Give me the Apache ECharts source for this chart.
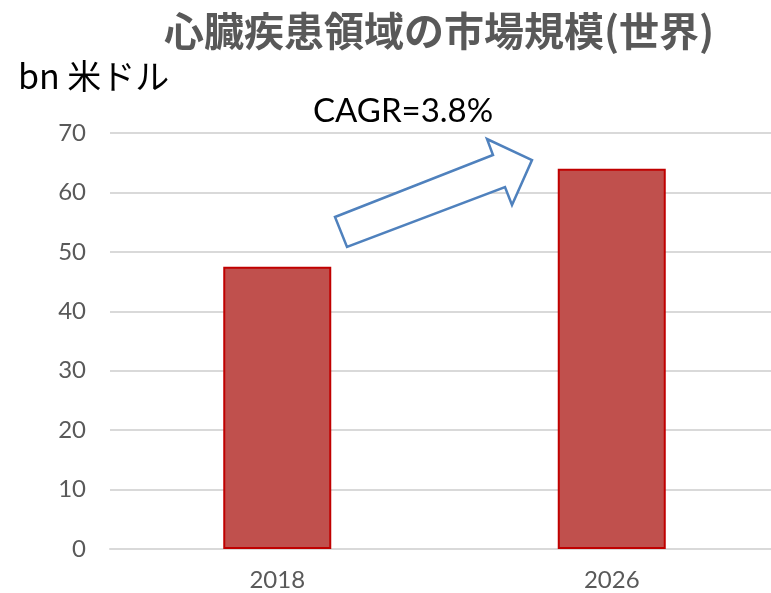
<!DOCTYPE html>
<html>
<head>
<meta charset="utf-8">
<script src="https://cdn.jsdelivr.net/npm/echarts@6/dist/echarts.min.js"></script>
<style>
  html, body { margin: 0; padding: 0; background: #fff; }
  #main { width: 771px; height: 593px; }
</style>
</head>
<body>
<div id="main"></div>
<script>
// 年と市場規模 (bn 米ドル)
var years = ['2018', '2026'];
var marketSize = [47.5, 64.0];
var yTicks = [0, 10, 20, 30, 40, 50, 60, 70];

var titleText = '心臓疾患領域の市場規模(世界)';
var unitText = 'bn 米ドル';
var cagrText = 'CAGR=3.8%';

var option = {
  backgroundColor: '#fff',
  title: {
    text: titleText,
    left: 159,
    top: 6,
    textStyle: {
      fontFamily: '"Noto Sans CJK JP"',
      fontWeight: 'bold',
      fontSize: 40,
      color: '#595959'
    }
  },
  grid: {
    left: 110,
    top: 133,
    width: 669,
    bottom: 44,
    outerBoundsMode: 'none'
  },
  xAxis: {
    type: 'category',
    data: years,
    axisLine: { lineStyle: { color: '#D9D9D9', width: 2 } },
    axisTick: { show: false },
    axisLabel: {
      color: '#595959',
      fontFamily: 'Lato',
      fontSize: 24,
      margin: 19
    }
  },
  yAxis: {
    type: 'value',
    min: yTicks[0],
    max: yTicks[yTicks.length - 1],
    interval: 10,
    axisLine: { show: false },
    axisTick: { show: false },
    splitLine: { lineStyle: { color: '#D9D9D9', width: 2 } },
    axisLabel: {
      color: '#595959',
      fontFamily: 'Lato',
      fontSize: 24,
      margin: 24
    }
  },
  series: [
    {
      type: 'bar',
      data: marketSize,
      barWidth: 108,
      itemStyle: {
        color: '#C0504D',
        borderColor: '#C00000',
        borderWidth: 2
      }
    }
  ],
  graphic: [
    {
      type: 'text',
      left: 18,
      top: 59,
      style: {
        text: unitText,
        fill: '#000',
        font: '34px "Noto Sans CJK JP"'
      }
    },
    {
      type: 'text',
      left: 313,
      top: 95,
      style: {
        text: cagrText,
        fill: '#000',
        font: '33px Lato'
      }
    },
    {
      // 成長を示すブロック矢印
      type: 'polygon',
      shape: {
        points: [[335, 217], [493, 155], [487, 139], [532, 160], [512, 205], [505, 187], [347, 247]]
      },
      style: {
        fill: '#fff',
        stroke: '#4F81BD',
        lineWidth: 2.5
      },
      z: 10
    }
  ]
};

var myChart = echarts.init(document.getElementById('main'));
myChart.setOption(option);
window.addEventListener('resize', function () {
  myChart.resize();
});
</script>
</body>
</html>
